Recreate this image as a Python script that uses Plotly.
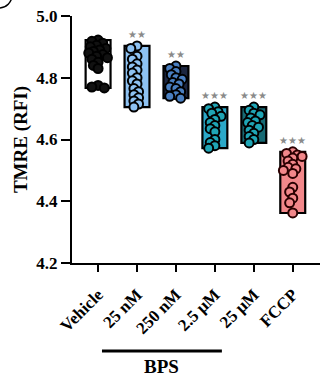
import numpy as np
import plotly.graph_objects as go

categories = ["Vehicle", "25 nM", "250 nM", "2.5 μM", "25 μM", "FCCP"]
vehicle = [4.922, 4.918, 4.912, 4.905, 4.90, 4.895, 4.89, 4.885, 4.88, 4.875, 4.87, 4.865, 4.86, 4.85, 4.84, 4.83, 4.775, 4.77, 4.767]
bps_25nM = [4.903, 4.895, 4.87, 4.86, 4.845, 4.835, 4.825, 4.815, 4.80, 4.79, 4.78, 4.765, 4.755, 4.745, 4.735, 4.725, 4.715, 4.705]
bps_250nM = [4.838, 4.83, 4.82, 4.81, 4.80, 4.795, 4.785, 4.78, 4.77, 4.765, 4.755, 4.745, 4.74, 4.734]
bps_2_5uM = [4.705, 4.70, 4.69, 4.685, 4.675, 4.665, 4.655, 4.645, 4.635, 4.625, 4.60, 4.59, 4.58, 4.572]
bps_25uM = [4.705, 4.695, 4.685, 4.68, 4.67, 4.66, 4.655, 4.645, 4.64, 4.63, 4.62, 4.61, 4.60, 4.589]
fccp = [4.56, 4.555, 4.55, 4.545, 4.54, 4.53, 4.52, 4.51, 4.505, 4.50, 4.49, 4.445, 4.43, 4.41, 4.395, 4.362]
groups = [vehicle, bps_25nM, bps_250nM, bps_2_5uM, bps_25uM, fccp]
significance = ["", "★★", "★★", "★★★", "★★★", "★★★"]
y_ticks = [4.2, 4.4, 4.6, 4.8, 5.0]

bar_fills = ["#ffffff", "#8ec2f2", "#1c2640", "#2aa8c8", "#176a74", "#f2878a"]
point_fills = ["#111111", "#8ec2f2", "#4a7fc0", "#1fa5b5", "#1fa5b5", "#f2878a"]
point_lines = ["#000000", "#000000", "#000000", "#000000", "#000000", "#2a0000"]

SERIF = "Liberation Serif"
PX_Y = 247 / 0.8
PX_X = 39.0


def swarm(vals, dmin=5.5):
    placed = []
    offs = [0.0] * len(vals)
    order = np.argsort(vals)[::-1]
    cands = sorted(np.linspace(-0.24, 0.24, 13), key=abs)
    for i in order:
        best, bestd = None, -1
        for c in cands:
            md = min([np.hypot((c - o) * PX_X, (vals[i] - v) * PX_Y) for o, v in placed] or [99])
            if md >= dmin:
                best = c
                break
            if md > bestd:
                bestd, best = md, c
        offs[i] = best
        placed.append((best, vals[i]))
    return offs


fig = go.Figure()
for k, vals in enumerate(groups):
    lo, hi = min(vals), max(vals)
    fig.add_trace(go.Bar(x=[k], y=[hi - lo], base=[lo], width=0.64,
                         marker=dict(color=bar_fills[k], line=dict(color="black", width=2.2)),
                         showlegend=False, hoverinfo="skip"))
for k, vals in enumerate(groups):
    offs = swarm(vals)
    fig.add_trace(go.Scatter(x=[k + o for o in offs], y=vals, mode="markers",
                             marker=dict(size=9, color=point_fills[k], symbol="circle",
                                         line=dict(color=point_lines[k], width=2)),
                             showlegend=False, hoverinfo="skip"))
for k, vals in enumerate(groups):
    if significance[k]:
        fig.add_annotation(x=k, y=max(vals) + 0.012, text=significance[k], showarrow=False,
                           yanchor="bottom", font=dict(size=10, color="#8a8a8a", family="DejaVu Sans"))


def px_x(p):
    return (p - 72) / 248.0


def px_y(p):
    return (263 - p) / 247.0


fig.add_shape(type="line", xref="x", yref="paper", x0=0.1, x1=3.18, y0=px_y(351), y1=px_y(351),
              line=dict(color="black", width=3))
fig.add_annotation(xref="x", yref="paper", x=1.64, y=px_y(366), yanchor="middle", text="BPS",
                   showarrow=False, font=dict(family=SERIF, size=19, color="black", weight="bold"))
fig.add_shape(type="circle", xref="paper", yref="paper", x0=px_x(-14), x1=px_x(12),
              y0=px_y(-18), y1=px_y(8), line=dict(color="black", width=1.5))

fig.update_layout(
    width=320, height=376, margin=dict(l=72, r=0, t=16, b=113),
    plot_bgcolor="white", paper_bgcolor="white", barmode="overlay",
    xaxis=dict(range=[-0.67, 5.7], tickmode="array", tickvals=list(range(len(categories))),
               ticktext=categories, tickangle=-45, showline=True, linecolor="black", linewidth=2,
               ticks="outside", ticklen=7, tickwidth=2, tickcolor="black", showgrid=False, zeroline=False,
               ticklabelstandoff=6,
               tickfont=dict(family=SERIF, size=17, color="black", weight="bold")),
    yaxis=dict(range=[4.2, 5.0], tickvals=y_ticks, tickformat=".1f", showline=True, linecolor="black",
               linewidth=2, ticks="outside", ticklen=9, tickwidth=2, tickcolor="black", showgrid=False,
               zeroline=False, tickfont=dict(family=SERIF, size=17, color="black", weight="bold"),
               title=dict(text="TMRE (RFI)", standoff=4,
                          font=dict(family=SERIF, size=19, color="black", weight="bold"))),
)
fig.write_html("out.html")
